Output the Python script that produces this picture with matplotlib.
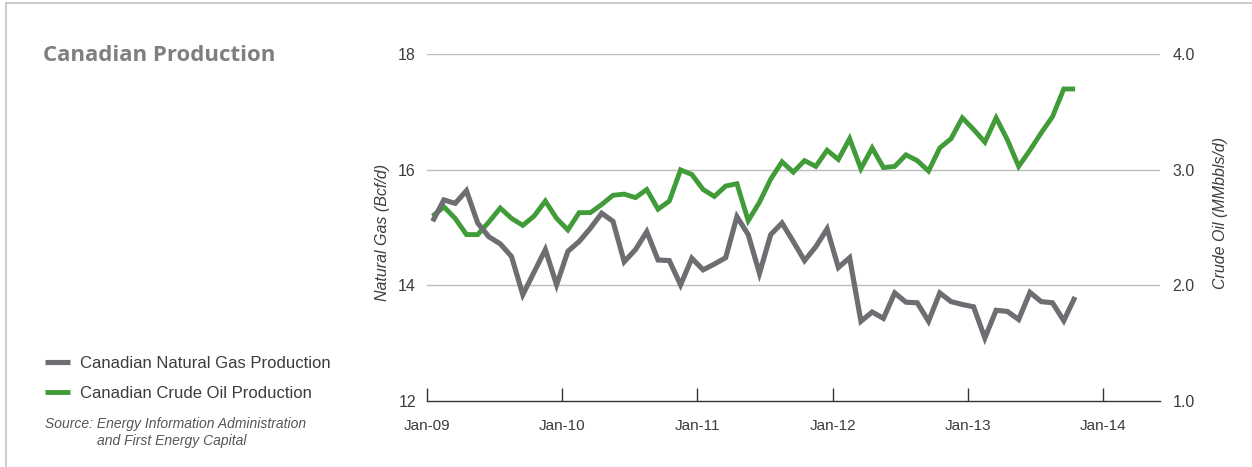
import matplotlib
matplotlib.use("Agg")
import matplotlib.pyplot as plt
from matplotlib.lines import Line2D
import numpy as np

# ---- data (monthly, Jan-09 .. Oct-13) ----
gas = [15.11, 15.48, 15.42, 15.64, 15.08, 14.84, 14.72, 14.50, 13.84, 14.23,
       14.62, 14.01, 14.59, 14.76, 14.99, 15.25, 15.11, 14.41, 14.62, 14.93,
       14.44, 14.43, 14.01, 14.47, 14.27, 14.37, 14.48, 15.19, 14.88, 14.21,
       14.88, 15.08, 14.76, 14.43, 14.67, 14.98, 14.31, 14.48, 13.38, 13.54,
       13.43, 13.87, 13.71, 13.70, 13.38, 13.87, 13.72, 13.67, 13.63, 13.09,
       13.57, 13.55, 13.41, 13.88, 13.72, 13.70, 13.39, 13.80]
oil = [2.60, 2.68, 2.58, 2.44, 2.44, 2.55, 2.67, 2.58, 2.52, 2.60,
       2.73, 2.58, 2.48, 2.63, 2.63, 2.70, 2.78, 2.79, 2.76, 2.83,
       2.66, 2.73, 3.00, 2.96, 2.83, 2.77, 2.86, 2.88, 2.56, 2.72,
       2.92, 3.07, 2.98, 3.08, 3.03, 3.17, 3.09, 3.27, 3.01, 3.19,
       3.02, 3.03, 3.13, 3.08, 2.99, 3.19, 3.27, 3.45, 3.35, 3.24,
       3.45, 3.26, 3.03, 3.17, 3.32, 3.46, 3.70, 3.70]
series_names = ["Canadian Natural Gas Production", "Canadian Crude Oil Production"]
x_tick_labels = ["Jan-09", "Jan-10", "Jan-11", "Jan-12", "Jan-13", "Jan-14"]
x_tick_pos = [0, 12, 24, 36, 48, 60]
gas_ticks = [12, 14, 16, 18]
oil_ticks = [1.0, 2.0, 3.0, 4.0]

months = np.arange(len(gas)) + 0.5   # plotted at mid-month

GRAY = "#6d6e71"
GREEN = "#409b38"
TXT = "#3c3c3c"

plt.rcParams['font.family'] = ['Liberation Sans', 'DejaVu Sans']

W, H = 1252, 467
fig = plt.figure(figsize=(W / 100, H / 100), dpi=100)
fig.patch.set_facecolor("white")

L, R, T, B = 427, 1160, 54.3, 401
ax = fig.add_axes([L / W, 1 - B / H, (R - L) / W, (B - T) / H])   # gas, left
ax2 = ax.twinx()                                                  # oil, right
ax.set_zorder(ax2.get_zorder() + 1)
ax.patch.set_visible(False)
xmax = (R - L) / 11.27

# oil axis (drawn below): grid + green line + right labels
ax2.set_ylim(1.0, 4.0)
ax2.set_yticks(oil_ticks)
ax2.set_yticklabels([f"{v:.1f}" for v in oil_ticks])
ax2.tick_params(axis='y', length=0, pad=9, labelsize=11.5, labelcolor=TXT)
ax2.grid(axis='y', color="#bdbdbd", linewidth=1.0)
ax2.set_axisbelow(True)
for s in ax2.spines.values():
    s.set_visible(False)
l_oil, = ax2.plot(months, oil, color=GREEN, linewidth=3.5,
                  solid_joinstyle='miter', solid_capstyle='butt')
# hide the gridline at the bottom (spine is drawn there)
ax2.get_ygridlines()[0].set_visible(False)

# gas axis (on top)
ax.set_ylim(12, 18)
ax.set_xlim(0, xmax)
ax.set_yticks(gas_ticks)
ax.set_yticklabels([str(v) for v in gas_ticks])
ax.tick_params(axis='y', length=0, pad=8, labelsize=11.5, labelcolor=TXT)
for s in ["top", "left", "right"]:
    ax.spines[s].set_visible(False)
ax.spines["bottom"].set_color("#333333")
ax.spines["bottom"].set_linewidth(1.0)
l_gas, = ax.plot(months, gas, color=GRAY, linewidth=3.7,
                 solid_joinstyle='miter', solid_capstyle='butt')

ax.set_xticks(x_tick_pos)
ax.set_xticklabels(x_tick_labels)
ax.tick_params(axis='x', direction='in', length=9.4, width=1.0, color="#333333",
               pad=13, labelsize=11, labelcolor=TXT)

# axis titles
fig.text(383 / W, 1 - 232 / H, "Natural Gas (Bcf/d)", rotation=90, ha='center', va='center',
         style='italic', fontsize=11.5, color=TXT)
fig.text(1221 / W, 1 - 213 / H, "Crude Oil (MMbbls/d)", rotation=90, ha='center', va='center',
         style='italic', fontsize=11.5, color=TXT)

# title
fig.text(43 / W, 1 - 60.7 / H, "Canadian Production", fontsize=16, fontweight='bold',
         color="#7f7f7f", family=['Open Sans', 'DejaVu Sans'], va='baseline', ha='left')

# legend
fig.legend([l_gas, l_oil], series_names, loc='upper left',
           bbox_to_anchor=(45 / W, 1 - 356 / H), frameon=False, fontsize=12,
           handlelength=1.5, handletextpad=0.6, labelspacing=0.88,
           borderpad=0, borderaxespad=0, labelcolor=TXT)

# source
fig.text(45 / W, 1 - 428.3 / H, "Source: Energy Information Administration", style='italic',
         fontsize=10, color="#555555", va='baseline')
fig.text(97 / W, 1 - 445 / H, "and First Energy Capital", style='italic',
         fontsize=10, color="#555555", va='baseline')

# frame (top and left edges)
fig.add_artist(Line2D([6 / W, 1], [1 - 3 / H, 1 - 3 / H], transform=fig.transFigure,
                      color="#c4c4c4", linewidth=1.2))
fig.add_artist(Line2D([6 / W, 6 / W], [0, 1 - 3 / H], transform=fig.transFigure,
                      color="#c4c4c4", linewidth=1.2))

fig.savefig("out.png", dpi=100, facecolor="white")
